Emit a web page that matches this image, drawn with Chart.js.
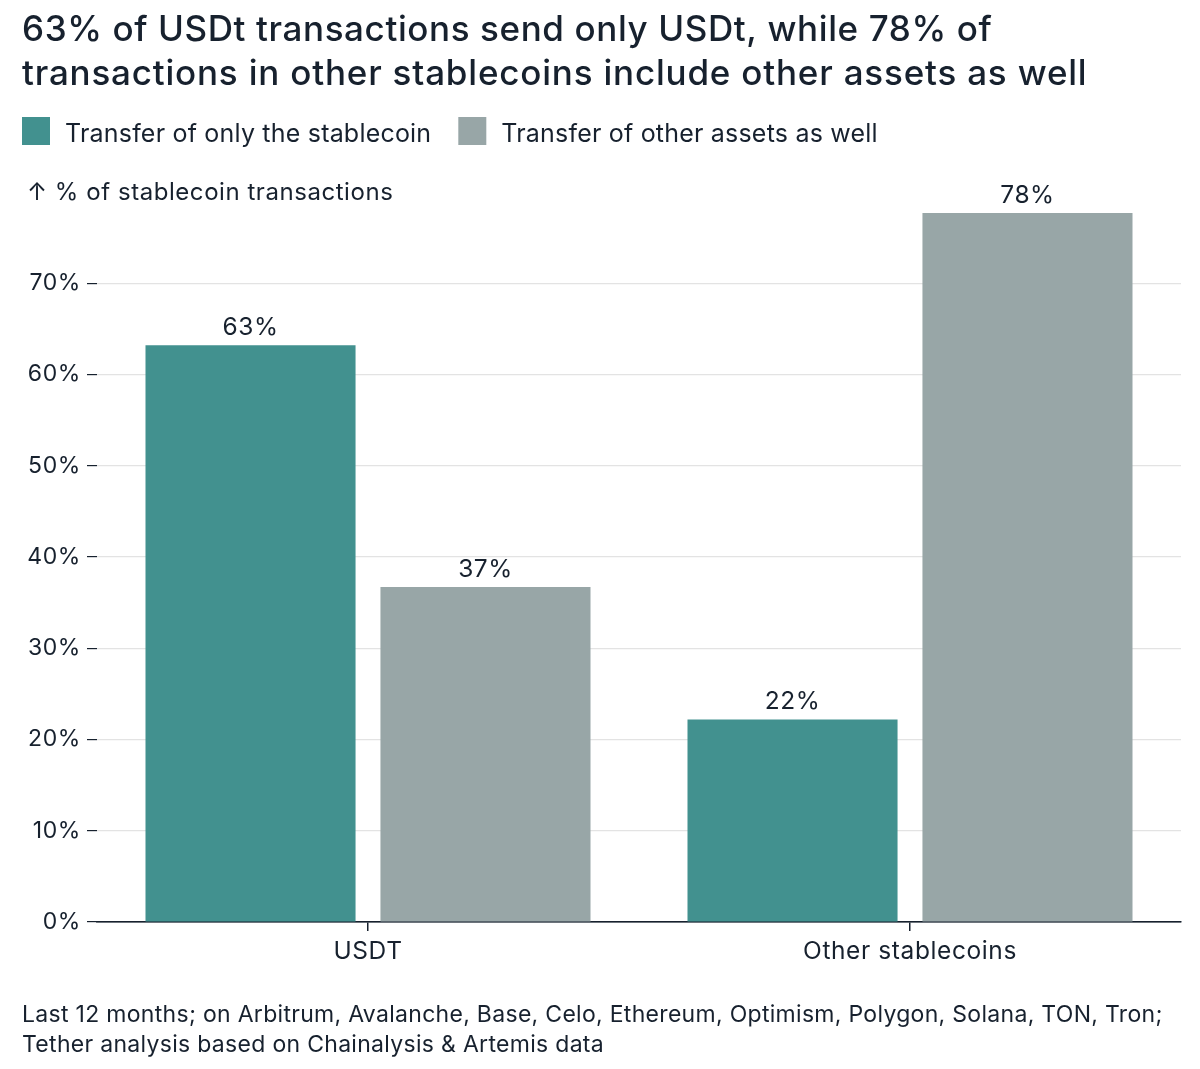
<!DOCTYPE html>
<html>
<head>
<meta charset="utf-8">
<script src="https://cdn.jsdelivr.net/npm/chart.js@4/dist/chart.umd.min.js"></script>
<style>
  html, body { margin: 0; padding: 0; background: #fff; }
  #wrap { width: 1200px; height: 1069px; position: relative; }
</style>
</head>
<body>
<div id="wrap"><canvas id="myChart"></canvas></div>
<script>
const categories = ['USDT', 'Other stablecoins']
const onlyStablecoin = [63.2, 22.2]
const otherAssets = [36.7, 77.7]
const valueLabels = [['63%', '22%'], ['37%', '78%']]
const seriesNames = ['Transfer of only the stablecoin', 'Transfer of other assets as well']
const yTicks = [0, 10, 20, 30, 40, 50, 60, 70]

const titleLines = [
    '63% of USDt transactions send only USDt, while 78% of',
    'transactions in other stablecoins include other assets as well'
]
const axisTitle = '\u2191 % of stablecoin transactions'
const footerLines = [
    'Last 12 months; on Arbitrum, Avalanche, Base, Celo, Ethereum, Optimism, Polygon, Solana, TON, Tron;',
    'Tether analysis based on Chainalysis & Artemis data'
]

const FONT = 'Inter, "Noto Sans", sans-serif'
const INK = '#17212e'
const TEAL = '#42918f'
const GREY = '#98a6a7'

// slightly wider letter spacing for the scale labels
const spacing = {
    id: 'spacing',
    beforeDraw(chart) { chart.ctx.letterSpacing = '0.6px' },
    afterDraw(chart) { chart.ctx.letterSpacing = '0px' }
}

// text around the plot: title, legend, axis title, footer
const frame = {
    id: 'frame',
    afterDraw(chart) {
        const ctx = chart.ctx
        ctx.save()
        ctx.fillStyle = INK
        ctx.textBaseline = 'alphabetic'
        ctx.textAlign = 'left'
        ctx.letterSpacing = '0.6px'
        ctx.font = '500 35px ' + FONT
        ctx.fillText(titleLines[0], 22, 41)
        ctx.letterSpacing = '0.8px'
        ctx.fillText(titleLines[1], 22, 85)

        // legend
        ctx.letterSpacing = '0.2px'
        ctx.font = '25px ' + FONT
        let x = 22
        chart.data.datasets.forEach((ds) => {
            ctx.fillStyle = ds.backgroundColor
            ctx.fillRect(x, 117, 28, 28)
            ctx.fillStyle = INK
            ctx.fillText(ds.label, x + 43, 142)
            x += 43 + ctx.measureText(ds.label).width + 27
        })

        ctx.letterSpacing = '0.55px'
        ctx.font = '24px ' + FONT
        ctx.fillText(axisTitle, 27, 200)

        ctx.letterSpacing = '0.3px'
        ctx.font = '23px ' + FONT
        ctx.fillText(footerLines[0], 22, 1022)
        ctx.fillText(footerLines[1], 22, 1052)
        ctx.restore()
    }
}

// value labels above bars
const barLabels = {
    id: 'barLabels',
    afterDatasetsDraw(chart) {
        const ctx = chart.ctx
        ctx.save()
        ctx.letterSpacing = '0.5px'
        ctx.font = '24.5px ' + FONT
        ctx.fillStyle = INK
        ctx.textAlign = 'center'
        ctx.textBaseline = 'alphabetic'
        chart.data.datasets.forEach((ds, i) => {
            chart.getDatasetMeta(i).data.forEach((bar, j) => {
                ctx.fillText(valueLabels[i][j], bar.x, bar.y - 10)
            })
        })
        ctx.restore()
    }
}

const ctx = document.getElementById('myChart')
const chart = new Chart(ctx, {
    type: 'bar',
    data: {
        labels: categories,
        datasets: [{
            label: seriesNames[0],
            backgroundColor: TEAL,
            data: onlyStablecoin,
            categoryPercentage: 0.867,
            barPercentage: 0.894
        }, {
            label: seriesNames[1],
            backgroundColor: GREY,
            data: otherAssets,
            categoryPercentage: 0.867,
            barPercentage: 0.894
        }]
    },
    options: {
        responsive: true,
        maintainAspectRatio: false,
        animation: false,
        layout: { padding: { top: 192, right: 19, left: 0, bottom: 0 } },
        plugins: {
            legend: { display: false },
            title: { display: false },
            tooltip: { enabled: false }
        },
        scales: {
            x: {
                afterFit(scale) { scale.height = 147 },
                grid: {
                    offset: false,
                    drawOnChartArea: false,
                    drawTicks: true,
                    tickLength: 9,
                    tickColor: INK,
                    lineWidth: 1.5
                },
                border: { display: true, color: INK, width: 1.5 },
                ticks: { color: INK, font: { family: FONT, size: 24.5 }, padding: 6 }
            },
            y: {
                min: 0,
                max: 80,
                afterFit(scale) { scale.width = 97 },
                afterBuildTicks(scale) {
                    scale.ticks = yTicks.map(v => ({ value: v }))
                },
                grid: {
                    color: (c) => c.tick && c.tick.value === 0 ? INK : '#e3e3e3',
                    lineWidth: 1.2,
                    drawTicks: true,
                    tickLength: 10,
                    tickColor: INK
                },
                border: { display: false },
                ticks: {
                    color: INK,
                    font: { family: FONT, size: 23 },
                    padding: 6,
                    callback: (v) => v + '%'
                }
            }
        }
    },
    plugins: [spacing, frame, barLabels]
})
</script>
</body>
</html>
